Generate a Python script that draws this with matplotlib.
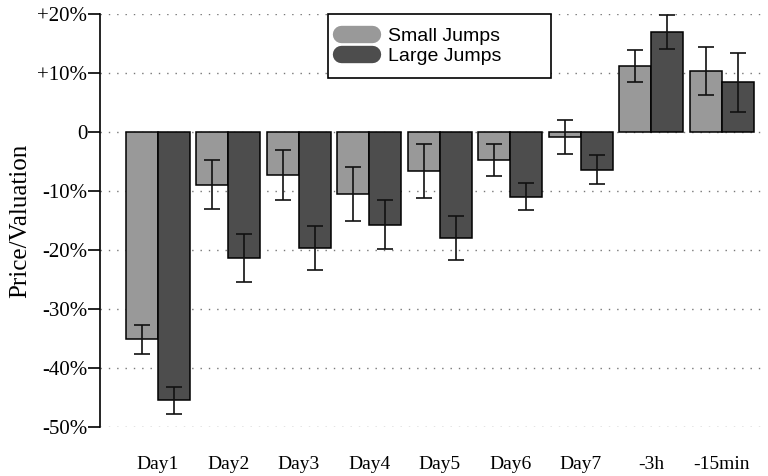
import matplotlib
matplotlib.use("Agg")
import matplotlib.pyplot as plt
from matplotlib.lines import Line2D
import numpy as np

# Horizons after the jump
categories = ["Day1", "Day2", "Day3", "Day4", "Day5", "Day6", "Day7", "-3h", "-15min"]

# Mean price/valuation deviation (%) and error half-widths
small_jumps = [-35.1, -8.9, -7.3, -10.5, -6.6, -4.7, -0.8, 11.2, 10.3]
small_err = [2.45, 4.15, 4.3, 4.65, 4.55, 2.75, 2.85, 2.65, 4.05]
large_jumps = [-45.5, -21.4, -19.6, -15.7, -18.0, -10.95, -6.4, 17.0, 8.4]
large_err = [2.25, 4.05, 3.75, 4.1, 3.75, 2.3, 2.45, 2.85, 5.0]

y_ticks = [20, 10, 0, -10, -20, -30, -40, -50]
y_tick_labels = ["+20%", "+10%", "0", "-10%", "-20%", "-30%", "-40%", "-50%"]

series_names = ["Small Jumps", "Large Jumps"]
colors = ["#999999", "#4d4d4d"]

serif = ["Liberation Serif", "DejaVu Serif"]
sans = ["Liberation Sans", "DejaVu Sans"]

fig = plt.figure(figsize=(7.68, 4.76), dpi=100)
W, H = 768, 476
ax = fig.add_axes([100 / W, 1 - 427 / H, 667 / W, 413 / H])

x = np.arange(len(categories))
width = 0.454
err_kw = dict(ecolor="#111111", elinewidth=1.2, capsize=6, capthick=1.2)

ax.bar(x - width / 2, small_jumps, width, yerr=small_err, color=colors[0],
       edgecolor="black", linewidth=1.1, error_kw=err_kw, zorder=3)
ax.bar(x + width / 2, large_jumps, width, yerr=large_err, color=colors[1],
       edgecolor="black", linewidth=1.1, error_kw=err_kw, zorder=3)

ax.set_xlim(-0.823, 8.64)
ax.set_ylim(-50, 20)

ax.set_yticks(y_ticks)
ax.set_yticklabels(y_tick_labels, fontfamily=serif, fontsize=15)
ax.set_xticks(x)
ax.set_xticklabels(categories, fontfamily=serif, fontsize=14)

ax.tick_params(axis="y", direction="out", length=9, width=1.2, pad=0)
ax.tick_params(axis="x", length=0, pad=21)

for side in ["top", "right", "bottom"]:
    ax.spines[side].set_visible(False)
ax.spines["left"].set_linewidth(1.2)

ax.yaxis.grid(True, linestyle=(0, (1, 5)), color="#777777", linewidth=1.0, zorder=0)
ax.set_axisbelow(True)

ax.set_ylabel("Price/Valuation", fontfamily=serif, fontsize=18)
ax.yaxis.set_label_coords(-0.103, 0.5)

handles = [Line2D([0], [0], color=c, lw=12.5, solid_capstyle="round") for c in colors]
leg = ax.legend(handles, series_names, loc="upper left",
                bbox_to_anchor=(0.342, 1.0, 0.334, 0.0), mode="expand",
                borderaxespad=0, prop={"family": sans, "size": 14},
                handlelength=1.6, handletextpad=0.8, labelspacing=0.12,
                borderpad=0.68, fancybox=False, framealpha=1)
leg.get_frame().set_edgecolor("black")
leg.get_frame().set_linewidth(1.2)

fig.savefig("out.png", dpi=100)
